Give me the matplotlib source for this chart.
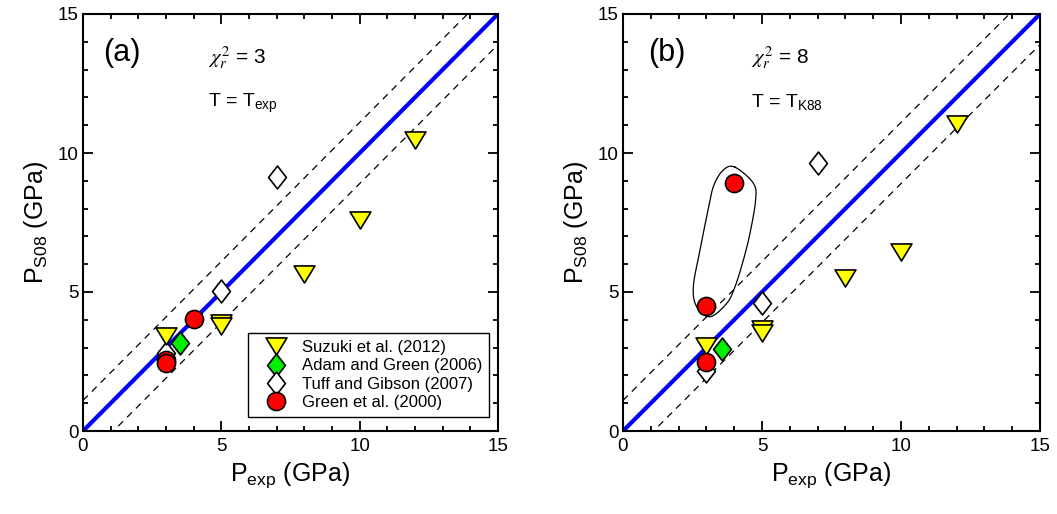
import numpy as np
import matplotlib
matplotlib.use("Agg")
import matplotlib.pyplot as plt
from matplotlib.path import Path
from matplotlib.ticker import MultipleLocator

plt.rcParams['font.family'] = ['Liberation Sans', 'DejaVu Sans']
plt.rcParams['mathtext.fontset'] = 'custom'
plt.rcParams['mathtext.rm'] = 'Liberation Sans'
plt.rcParams['mathtext.it'] = 'Liberation Sans:italic'

# panel (a): T = T_exp
suzuki_a_x = [3, 5, 5, 8, 10, 12]
suzuki_a_y = [3.4, 3.9, 3.78, 5.65, 7.6, 10.45]
adam_a_x = [3.5]
adam_a_y = [3.15]
tuff_a_x = [3, 5, 7]
tuff_a_y = [2.8, 5.02, 9.12]
green_a_x = [3, 3, 4]
green_a_y = [2.55, 2.45, 4.03]

# panel (b): T = T_K88
suzuki_b_x = [3, 5, 5, 8, 10, 12]
suzuki_b_y = [3.05, 3.66, 3.52, 5.49, 6.45, 11.05]
adam_b_x = [3.55]
adam_b_y = [2.95]
tuff_b_x = [3, 5, 7]
tuff_b_y = [2.15, 4.62, 9.65]
green_b_x = [3, 3, 4]
green_b_y = [2.5, 4.5, 8.92]

chi2 = [3, 8]
temp_labels = [r'T = T$_{\mathrm{exp}}$', r'T = T$_{\mathrm{K88}}$']
panel_tags = ['(a)', '(b)']
band = 1.1

# hand-drawn outline around the two outlying points in (b)
loop_x = [4.03, 4.69, 4.77, 4.57, 4.33, 4.03, 3.73, 3.13, 2.65, 2.53, 2.77, 3.01, 3.25, 3.61]
loop_y = [9.49, 8.91, 8.31, 7.12, 6.15, 5.19, 4.59, 4.11, 4.47, 5.19, 6.51, 7.71, 8.79, 9.39]

tri = Path([(-1, 0.82), (1, 0.82), (0, -0.82), (-1, 0.82)], closed=True)
dia = Path([(0, 1), (0.78, 0), (0, -1), (-0.78, 0), (0, 1)], closed=True)


def closed_spline(xs, ys, n=20):
    p = np.column_stack([xs, ys])
    m = len(p)
    t = np.linspace(0, 1, n, endpoint=False)[:, None]
    segs = []
    for i in range(m):
        p0, p1, p2, p3 = p[i - 1], p[i], p[(i + 1) % m], p[(i + 2) % m]
        segs.append(0.5 * (2 * p1 + (-p0 + p2) * t
                           + (2 * p0 - 5 * p1 + 4 * p2 - p3) * t ** 2
                           + (-p0 + 3 * p1 - 3 * p2 + p3) * t ** 3))
    out = np.vstack(segs)
    return np.vstack([out, out[:1]])


fig = plt.figure(figsize=(10.57, 5.14), dpi=100)
ax_a = fig.add_axes([83 / 1057, 83 / 514, 415 / 1057, 417 / 514])
ax_b = fig.add_axes([623 / 1057, 83 / 514, 417 / 1057, 417 / 514])

sets = [
    (ax_a, suzuki_a_x, suzuki_a_y, adam_a_x, adam_a_y, tuff_a_x, tuff_a_y, green_a_x, green_a_y),
    (ax_b, suzuki_b_x, suzuki_b_y, adam_b_x, adam_b_y, tuff_b_x, tuff_b_y, green_b_x, green_b_y),
]

tag_x = [0.72, 0.9]
txt_x = [4.52, 4.6]

for i, (ax, sx, sy, ax_, ay, tx, ty, gx, gy) in enumerate(sets):
    line = np.array([0, 15])
    ax.plot(line, line, color='#0000ff', lw=3, zorder=2, solid_capstyle='butt')
    ax.plot(line, line + band, color='black', lw=0.9, ls=(0, (5.5, 4.5)), zorder=2)
    ax.plot(line, line - band, color='black', lw=0.9, ls=(0, (5.5, 4.5)), zorder=2)

    h_t, = ax.plot(tx, ty, ls='none', marker=dia, ms=16.5, mfc='white', mec='black', mew=1.2, zorder=3)
    h_s, = ax.plot(sx, sy, ls='none', marker=tri, ms=15, mfc='#ffff00', mec='black', mew=1.2, zorder=4)
    h_a, = ax.plot(ax_, ay, ls='none', marker=dia, ms=16.5, mfc='#00ee00', mec='black', mew=1.2, zorder=5)
    h_g, = ax.plot(gx, gy, ls='none', marker='o', ms=13, mfc='#ff0000', mec='black', mew=1.2, zorder=6)

    ax.set_xlim(0, 15)
    ax.set_ylim(0, 15)
    ax.xaxis.set_major_locator(MultipleLocator(5))
    ax.yaxis.set_major_locator(MultipleLocator(5))
    ax.xaxis.set_minor_locator(MultipleLocator(1))
    ax.yaxis.set_minor_locator(MultipleLocator(1))
    ax.tick_params(which='both', direction='in', top=True, right=True, width=1.3, labelsize=13.5)
    ax.tick_params(which='major', length=7.5)
    ax.tick_params(which='minor', length=3.8)
    ax.tick_params(axis='x', pad=5)
    ax.tick_params(axis='y', pad=3)
    for sp in ax.spines.values():
        sp.set_linewidth(1.5)

    ax.set_xlabel(r'P$_{\mathrm{exp}}$ (GPa)', fontsize=18, labelpad=4)
    ax.set_ylabel(r'P$_{\mathrm{S08}}$ (GPa)', fontsize=18, labelpad=6)

    ax.text(tag_x[i], 13.6, panel_tags[i], fontsize=22, ha='left', va='center')
    ax.text(txt_x[i], 13.24, r'$\chi_r^2$' + ' = %d' % chi2[i], fontsize=15,
            ha='left', va='baseline', math_fontfamily='stix')
    ax.text(txt_x[i], 11.65, temp_labels[i], fontsize=14, ha='left', va='baseline')

    if i == 0:
        leg = ax.legend([h_s, h_a, h_t, h_g],
                        ['Suzuki et al. (2012)', 'Adam and Green (2006)',
                         'Tuff and Gibson (2007)', 'Green et al. (2000)'],
                        loc='lower right', bbox_to_anchor=(0.978, 0.034),
                        borderaxespad=0, fontsize=12, numpoints=1,
                        handlelength=2.55, handletextpad=0.25, borderpad=0.4,
                        labelspacing=0.2, fancybox=False, framealpha=1,
                        edgecolor='black')
        leg.get_frame().set_linewidth(1.0)
        leg.set_zorder(10)

lx, ly = closed_spline(loop_x, loop_y).T
ax_b.plot(lx, ly, color='black', lw=0.9, zorder=3)

fig.savefig('out.png', dpi=100)
